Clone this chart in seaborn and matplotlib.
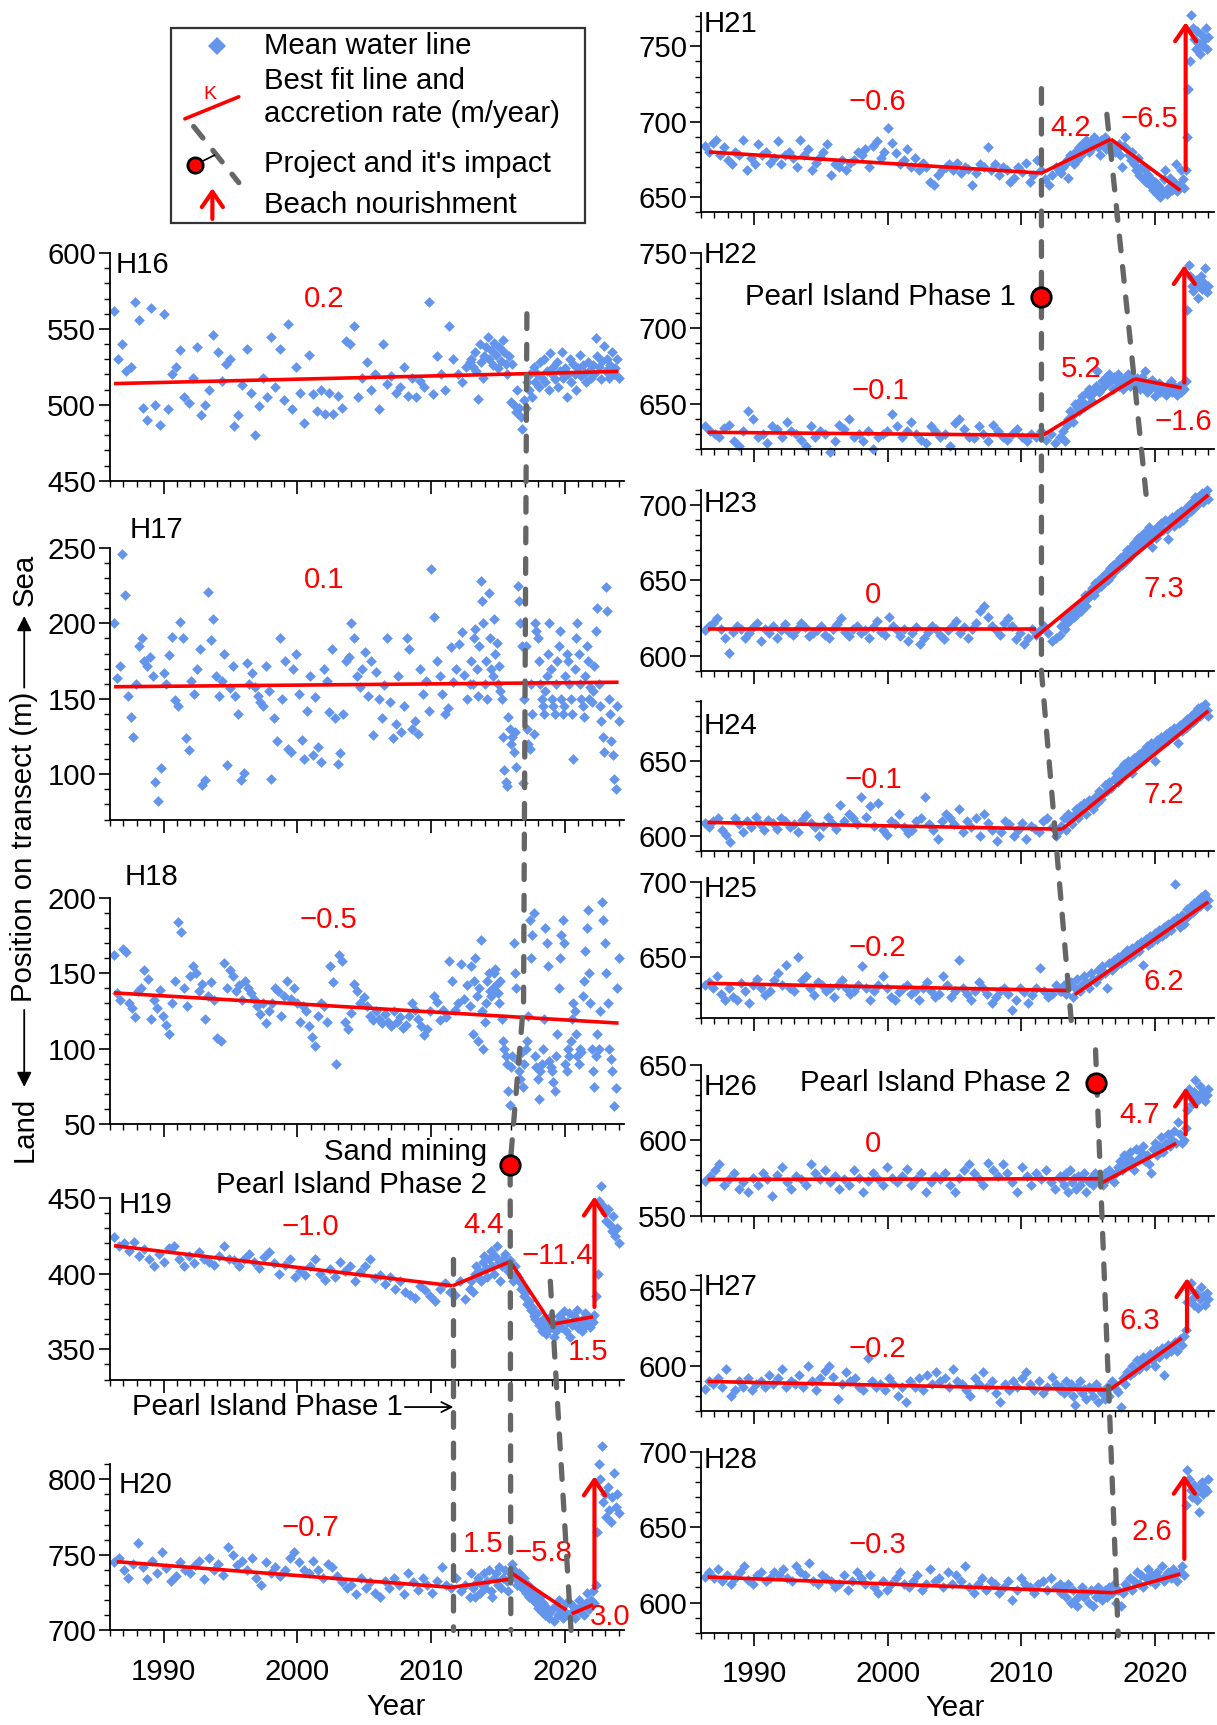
import numpy as np
import matplotlib
matplotlib.use('Agg')
import matplotlib.pyplot as plt
import seaborn as sns
from matplotlib.patches import Rectangle

sns.set_style('ticks', {'axes.edgecolor': 'black', 'xtick.color': 'black',
                        'ytick.color': 'black', 'text.color': 'black'})
plt.rcParams['font.family'] = ['Liberation Sans', 'DejaVu Sans']

BLUE = '#6495ed'
RED = '#ff0000'
GREY = '#666666'
FS = 21.2

# sampling windows of the shoreline images (pre / post / after nourishment)
PERIODS = [(1986.3, 2012.9), (2013.0, 2022.2), (2022.3, 2024.0)]

# ---------------- mean water line positions (m) ----------------
h16_pre = [562, 530, 540, 522, 525, 568, 556, 498, 490, 564, 500, 487, 560, 497, 520, 525, 536, 505, 501, 518,
           538, 493, 500, 510, 546, 535, 516, 527, 530, 486, 493, 513, 537, 508, 480, 499, 518, 505, 545, 512,
           537, 503, 553, 497, 525, 508, 488, 533, 507, 496, 510, 494, 508, 494, 506, 498, 542, 540, 552, 505,
           518, 528, 510, 520, 497, 540, 514, 519, 508, 512, 525, 506, 518, 505, 516, 512, 568, 507, 532, 520,
           510, 552, 530, 520, 515, 525, 528]
h16_post = [530, 525, 535, 522, 504, 540, 528, 518, 532, 538, 545, 530, 536, 526, 541, 533, 524, 538, 529, 543,
            535, 527, 520, 532, 502, 527, 500, 495, 510, 498, 492, 484, 503, 498, 515, 510, 520, 505, 525, 515,
            520, 512, 528, 518, 530, 515, 522, 510, 534, 520, 525, 517, 528, 512, 522, 535, 518, 524, 505, 520,
            530, 515, 527, 520, 510, 524, 533, 519, 526, 521, 515, 528, 523, 518, 526, 520]
h16_last = [544, 532, 525, 517, 529, 539, 522, 530, 518, 526, 535, 520, 524, 530, 518]

h17_pre = [200, 164, 172, 246, 219, 152, 138, 125, 160, 185, 190, 175, 172, 178, 165, 95, 82, 104, 167, 160,
           179, 191, 149, 145, 201, 190, 124, 116, 162, 153, 170, 183, 93, 96, 221, 189, 203, 165, 152, 162,
           180, 106, 157, 172, 152, 140, 96, 101, 174, 160, 167, 158, 152, 148, 145, 172, 155, 97, 137, 122,
           190, 150, 175, 117, 115, 170, 180, 153, 123, 110, 142, 165, 113, 151, 118, 108, 170, 162, 141, 183,
           137, 107, 114, 140, 175, 178, 200, 190, 165, 158, 170, 181, 152, 175, 126, 168, 150, 137, 159, 190,
           148, 124, 133, 165, 128, 145, 190, 183, 130, 135, 127, 170, 153, 162, 142, 236, 204, 175, 165, 153,
           140, 144, 184, 161, 170, 186, 194, 166, 150, 160]
h17_post = [175, 160, 190, 196, 170, 152, 185, 228, 215, 200, 160, 175, 150, 220, 190, 170, 165, 203, 180, 187,
            160, 172, 155, 150, 125, 103, 95, 92, 138, 130, 120, 125, 115, 128, 105, 225, 215, 200, 185, 94,
            150, 185, 130, 120, 117, 160, 140, 127, 200, 195, 190, 175, 160, 150, 145, 140, 155, 165, 180, 200,
            170, 150, 145, 140, 160, 175, 185, 195, 150, 140, 145, 165, 180, 175, 160, 150, 140, 110, 170, 190,
            200, 180, 160, 150, 145, 138, 165, 185, 175, 150, 158, 148, 155, 172]
h17_last = [195, 210, 160, 145, 135, 125, 115, 224, 208, 150, 140, 122, 113, 97, 90, 145, 135]

h18_pre = [162, 137, 132, 166, 164, 130, 127, 121, 138, 140, 152, 146, 120, 132, 127, 139, 122, 116, 110, 130,
           145, 184, 177, 140, 128, 148, 155, 150, 138, 143, 120, 135, 144, 132, 107, 105, 157, 140, 152, 148,
           138, 142, 132, 145, 140, 137, 133, 128, 123, 130, 117, 125, 130, 140, 138, 122, 135, 145, 133, 140,
           130, 118, 128, 125, 115, 108, 102, 122, 130, 128, 118, 155, 144, 90, 162, 158, 118, 113, 124, 143,
           138, 130, 134, 128, 122, 119, 125, 120, 117, 123, 118, 115, 125, 118, 121, 114, 116, 122, 130, 126,
           120, 115, 109, 113, 125, 135, 131, 119, 126, 121, 158, 145, 126, 130, 156, 133, 142, 128]
h18_post = [155, 110, 145, 160, 135, 105, 140, 172, 125, 100, 118, 130, 145, 150, 138, 135, 140, 150, 153, 143,
            137, 130, 145, 120, 105, 100, 95, 90, 72, 63, 88, 95, 170, 150, 140, 92, 85, 80, 98, 75,
            90, 100, 105, 122, 185, 160, 175, 190, 95, 88, 80, 67, 85, 90, 100, 120, 180, 170, 155, 92,
            88, 85, 78, 72, 95, 110, 140, 160, 175, 185, 170, 90, 85, 100, 95, 105, 120, 130, 125, 110,
            95, 90, 100, 98, 135, 145, 165, 180, 192, 150, 130, 100, 85, 75]
h18_last = [95, 110, 100, 125, 197, 185, 170, 150, 130, 100, 93, 85, 62, 74, 140, 160]

h19_pre = [424, 418, 420, 415, 421, 412, 416, 410, 405, 413, 408, 417, 418, 410, 405, 412, 407, 414, 410, 408,
           406, 412, 418, 410, 409, 405, 410, 413, 408, 404, 411, 414, 407, 400, 406, 410, 398, 402, 399, 405,
           410, 400, 396, 403, 398, 408, 402, 405, 395, 401, 405, 410, 397, 399, 393, 398, 390, 395, 388, 386,
           384, 392, 389, 385, 382, 390, 394, 388, 386, 395, 383, 390]
h19_post = [395, 388, 400, 405, 398, 402, 395, 408, 412, 404, 398, 410, 415, 405, 400, 412, 418, 408, 395, 405,
            410, 413, 406, 402, 409, 400, 395, 405, 400, 398, 395, 390, 392, 385, 388, 380, 382, 376, 378, 372,
            370, 374, 366, 368, 362, 370, 365, 360, 368, 364, 372, 366, 358, 362, 368, 372, 365, 370, 375, 362,
            368, 374, 358, 366, 372, 370, 376, 364, 368, 362, 370, 374, 366, 372, 365, 370, 368, 373]
h19_last = [385, 400, 448, 458, 445, 440, 435, 443, 432, 428, 438, 425, 430, 420]

h20_pre = [745, 748, 740, 735, 744, 758, 742, 734, 746, 738, 752, 741, 733, 736, 745, 740, 738, 743, 746, 734,
           748, 740, 744, 737, 755, 750, 743, 746, 740, 748, 735, 730, 745, 738, 742, 736, 740, 748, 752, 745,
           740, 738, 746, 740, 735, 744, 742, 736, 732, 728, 730, 724, 735, 728, 732, 725, 722, 733, 728, 735,
           730, 724, 738, 732, 727, 735, 730, 725, 733, 742, 730, 728, 735, 726, 730, 722]
h20_post = [738, 728, 722, 732, 735, 725, 730, 738, 728, 733, 740, 726, 722, 735, 738, 730, 742, 728, 735, 740,
            733, 726, 738, 744, 740, 735, 730, 738, 732, 728, 735, 725, 730, 722, 728, 720, 725, 718, 715, 722,
            712, 718, 710, 715, 708, 712, 714, 706, 716, 710, 720, 713, 708, 712, 718, 710, 718, 712, 716, 708,
            714, 720, 712, 716, 710, 718, 725, 714, 720, 726, 718]
h20_last = [730, 765, 810, 800, 822, 785, 790, 775, 795, 780, 772, 788, 804, 782, 790, 778]

h21_pre = [684, 680, 686, 688, 678, 683, 675, 672, 680, 678, 688, 668, 676, 672, 685, 678, 680, 673, 676, 687,
           672, 678, 680, 676, 670, 688, 678, 682, 668, 673, 677, 680, 685, 665, 672, 670, 675, 668, 673, 675,
           680, 678, 682, 670, 684, 687, 676, 680, 696, 686, 679, 672, 675, 682, 670, 676, 668, 673, 670, 660,
           658, 665, 668, 670, 672, 668, 673, 666, 670, 669, 658, 666, 672, 670, 683, 668, 672, 665, 670, 668,
           660, 663, 670, 667, 673, 660, 665, 675, 668, 662, 658, 665, 670, 667]
h21_post = [666, 670, 672, 675, 663, 678, 676, 672, 680, 675, 683, 678, 685, 682, 688, 684, 680, 686, 683, 690,
            686, 683, 678, 688, 685, 690, 682, 686, 684, 680, 684, 680, 682, 685, 678, 670, 684, 690, 682, 678,
            675, 680, 672, 668, 676, 665, 670, 662, 668, 660, 665, 658, 662, 655, 660, 652, 658, 650, 655, 662,
            668, 652, 657, 663, 655, 660, 672, 654, 658, 668, 662, 656]
h21_last = [668, 690, 722, 740, 771, 762, 755, 748, 760, 752, 745, 758, 750, 754, 762, 748, 756]

h22_pre = [635, 632, 630, 628, 634, 636, 625, 622, 632, 645, 640, 628, 630, 624, 635, 633, 628, 638, 632, 630,
           626, 622, 635, 628, 632, 630, 618, 625, 636, 633, 640, 628, 630, 625, 632, 620, 628, 630, 632, 643,
           635, 628, 632, 638, 630, 626, 624, 635, 632, 628, 630, 622, 637, 640, 633, 628, 627, 635, 630, 625,
           636, 632, 628, 626, 630, 633, 628, 625, 630, 628, 632, 626, 630, 624, 628]
h22_post = [628, 632, 625, 636, 640, 645, 642, 638, 650, 648, 645, 652, 655, 648, 650, 658, 660, 655, 652, 658,
            662, 672, 658, 660, 665, 662, 668, 664, 670, 666, 660, 668, 665, 670, 662, 666, 660, 664, 668, 670,
            662, 665, 668, 663, 667, 665, 660, 668, 662, 672, 658, 664, 660, 666, 662, 655, 660, 664, 658, 662,
            660, 656, 662, 660, 665, 658, 662, 660, 656, 662, 658, 664, 660]
h22_last = [665, 712, 742, 735, 728, 725, 730, 732, 720, 728, 735, 726, 730, 740, 724, 728]

h23_pre = [617, 620, 622, 625, 618, 612, 602, 616, 620, 618, 612, 615, 619, 622, 610, 618, 615, 620, 612, 617,
           621, 616, 614, 618, 622, 619, 613, 615, 617, 620, 614, 612, 618, 621, 625, 616, 613, 618, 620, 615,
           617, 612, 619, 623, 616, 614, 626, 620, 617, 613, 618, 610, 615, 619, 608, 612, 616, 620, 618, 614,
           611, 617, 620, 623, 615, 619, 612, 618, 622, 630, 633, 626, 620, 617, 614, 622, 625, 620, 611, 615,
           608, 612, 618, 614, 617, 620, 615, 610, 612, 614]
h23_post = [620, 625, 618, 622, 628, 624, 630, 626, 632, 628, 634, 630, 636, 640, 633, 638, 642, 645, 640, 648,
            644, 650, 646, 652, 648, 655, 650, 658, 653, 660, 656, 662, 658, 665, 660, 667, 663, 670, 665, 672,
            668, 675, 670, 678, 673, 680, 676, 682, 678, 685, 680, 672, 683, 678, 686, 681, 688, 683, 690, 684,
            677, 688, 692, 686, 690, 694, 688, 696, 690, 693]
h23_last = [698, 694, 700, 696, 702, 698, 705, 700, 706, 703, 708, 702, 707, 710, 704]

h24_pre = [609, 606, 610, 612, 604, 601, 596, 612, 608, 603, 610, 606, 613, 608, 604, 611, 609, 605, 612, 610,
           606, 608, 603, 611, 614, 609, 606, 600, 607, 613, 609, 605, 621, 610, 615, 612, 608, 626, 613, 620,
           607, 622, 604, 601, 610, 608, 615, 606, 602, 604, 610, 612, 626, 608, 604, 598, 610, 615, 612, 608,
           618, 603, 610, 606, 612, 600, 615, 609, 604, 597, 603, 610, 608, 600, 604, 609, 598, 607, 605, 603,
           610, 612, 606, 600, 604]
h24_post = [607, 612, 604, 615, 610, 608, 614, 618, 612, 620, 616, 622, 615, 624, 620, 618, 626, 622, 630, 625,
            628, 634, 630, 636, 632, 638, 642, 636, 645, 640, 648, 643, 650, 646, 642, 652, 648, 655, 650, 657,
            652, 660, 655, 662, 658, 650, 664, 660, 666, 662, 668, 664, 670, 666, 672, 668, 662, 674, 670, 676]
h24_last = [672, 678, 674, 680, 676, 682, 678, 685, 680, 686, 682, 688, 684, 680]

h25_pre = [632, 634, 630, 638, 626, 622, 630, 624, 622, 633, 628, 620, 632, 636, 630, 625, 628, 635, 640, 632,
           645, 630, 628, 650, 635, 638, 630, 625, 634, 632, 628, 630, 624, 632, 635, 630, 626, 628, 632, 644,
           630, 622, 628, 632, 638, 630, 624, 622, 627, 630, 632, 626, 628, 622, 630, 634, 628, 624, 626, 638,
           632, 624, 628, 648, 630, 626, 622, 628, 634, 630, 626, 620, 624, 628, 630, 626, 615, 622, 630, 627,
           620, 625, 630, 643, 628, 624, 626, 632, 628]
h25_post = [628, 632, 626, 630, 634, 624, 630, 636, 628, 632, 638, 634, 630, 640, 636, 634, 642, 638, 644, 640,
            630, 646, 642, 648, 644, 650, 646, 652, 648, 655, 650, 656, 652, 658, 654, 660, 645, 662, 658, 664,
            660, 666, 662, 668, 664, 670, 666, 672, 668, 674, 699, 676, 670, 678, 672]
h25_last = [676, 682, 678, 684, 680, 686, 682, 688, 684, 690, 686, 692, 684, 688]

h26_pre = [573, 576, 580, 584, 570, 574, 578, 568, 572, 566, 575, 570, 578, 574, 563, 577, 582, 572, 568, 576,
           574, 570, 584, 578, 574, 580, 572, 576, 568, 574, 570, 580, 575, 566, 573, 578, 574, 570, 582, 575,
           572, 576, 581, 570, 574, 578, 566, 572, 576, 574, 578, 570, 566, 575, 580, 584, 578, 574, 570, 585,
           580, 576, 584, 578, 572, 566, 582, 576, 570, 578, 574, 580, 572, 568, 576]
h26_post = [574, 570, 578, 566, 580, 572, 575, 568, 576, 570, 574, 578, 566, 572, 575, 570, 578, 574, 572, 576,
            570, 578, 574, 580, 576, 572, 578, 582, 586, 580, 590, 584, 588, 592, 586, 580, 594, 588, 592, 596,
            586, 590, 584, 578, 594, 598, 590, 596, 602, 592, 598, 604, 596, 600, 606, 598, 612, 604, 598, 600]
h26_last = [608, 620, 634, 628, 624, 632, 640, 626, 630, 636, 628, 632, 626, 630, 634]

h27_pre = [585, 590, 588, 592, 586, 598, 580, 584, 590, 586, 592, 584, 588, 590, 586, 594, 588, 592, 598, 586,
           590, 588, 594, 586, 600, 590, 584, 592, 597, 600, 593, 578, 588, 596, 590, 592, 586, 584, 605, 590,
           586, 588, 584, 592, 588, 580, 586, 576, 590, 586, 592, 584, 594, 588, 596, 590, 592, 586, 598, 590,
           588, 584, 580, 592, 588, 596, 586, 590, 582, 576, 588, 584, 590, 586, 592, 596, 588, 584, 590, 582,
           586, 593, 588, 584]
h27_post = [586, 582, 590, 584, 588, 580, 574, 586, 590, 582, 585, 578, 586, 584, 580, 588, 576, 584, 582, 578,
            586, 580, 590, 588, 585, 583, 573, 592, 588, 596, 594, 600, 596, 604, 598, 602, 606, 600, 604, 608,
            604, 600, 610, 606, 612, 594, 608, 614, 610, 612, 616, 610, 618, 614, 620]
h27_last = [624, 642, 650, 655, 645, 640, 648, 638, 644, 652, 646, 640, 648, 644]

h28_pre = [617, 620, 616, 622, 614, 618, 612, 616, 620, 624, 615, 612, 618, 620, 614, 616, 620, 618, 622, 616,
           614, 624, 620, 618, 626, 614, 612, 618, 616, 614, 610, 612, 618, 608, 614, 620, 616, 612, 618, 610,
           606, 614, 608, 612, 616, 620, 612, 610, 614, 618, 608, 612, 622, 614, 616, 610, 620, 612, 618, 614,
           624, 610, 606, 612, 616, 608, 614, 612, 606, 610, 614, 602, 608, 616, 612, 610, 606, 612, 614, 608,
           616, 610, 612]
h28_post = [606, 610, 604, 612, 600, 608, 602, 598, 605, 610, 604, 606, 600, 608, 598, 604, 610, 606, 602, 608,
            604, 610, 606, 612, 600, 608, 598, 606, 612, 610, 616, 608, 614, 620, 612, 618, 610, 616, 622, 614,
            618, 612, 620, 616, 624, 614, 618, 620, 616, 622, 618, 614, 620, 624, 618]
h28_last = [665, 688, 682, 675, 670, 678, 672, 668, 660, 676, 680, 672, 676, 674, 682]

# ---------------- best fit segments (x0, y0, x1, y1) ----------------
h16_fit = [(1986.3, 514, 2024.0, 522)]
h17_fit = [(1986.3, 158, 2024.0, 161)]
h18_fit = [(1986.3, 137, 2024.0, 117)]
h19_fit = [(1986.3, 418.5, 2011.6, 392), (2011.6, 392, 2015.9, 408),
           (2015.9, 408, 2019.0, 366.5), (2019.0, 366.5, 2022.1, 371.5)]
h20_fit = [(1986.5, 745.5, 2011.5, 728.5), (2011.5, 728.5, 2015.95, 734),
           (2016.0, 738, 2020.1, 713.5), (2020.5, 711, 2022.1, 717)]
h21_fit = [(1986.6, 680, 2011.5, 666), (2011.5, 666, 2016.7, 688.5), (2016.7, 688.5, 2021.9, 654.5)]
h22_fit = [(1986.5, 631, 2011.6, 629), (2011.6, 629, 2018.5, 666.5), (2018.5, 666.5, 2022.0, 660.5)]
h23_fit = [(1986.5, 617.5, 2011.1, 617.5), (2011.0, 612, 2024.0, 706.5)]
h24_fit = [(1986.5, 609.3, 2013.05, 604.8), (2013.05, 604.8, 2024.0, 683.3)]
h25_fit = [(1986.5, 632.8, 2013.5, 628), (2014.0, 625.3, 2024.0, 687)]
h26_fit = [(1986.5, 574, 2015.9, 574.5), (2016.0, 571.7, 2021.6, 598)]
h27_fit = [(1986.5, 589.8, 2016.6, 584.2), (2016.6, 584.2, 2022.0, 618.4)]
h28_fit = [(1986.5, 617, 2016.9, 606.5), (2016.9, 606.5, 2021.9, 619)]

# ---------------- accretion rates (m/year) and where they are written ----------------
h16_rate = [('0.2', 2002.0, 570)]
h17_rate = [('0.1', 2002.0, 229)]
h18_rate = [('\u22120.5', 2002.3, 185)]
h19_rate = [('\u22121.0', 2001.0, 431), ('4.4', 2013.9, 432.5), ('\u221211.4', 2019.4, 412), ('1.5', 2021.7, 348)]
h20_rate = [('\u22120.7', 2001.0, 767.5), ('1.5', 2013.9, 757.5), ('\u22125.8', 2018.4, 751.5), ('3.0', 2023.4, 709)]
h21_rate = [('\u22120.6', 1999.2, 713), ('4.2', 2013.7, 696), ('\u22126.5', 2019.6, 702)]
h22_rate = [('\u22120.1', 1999.4, 658.5), ('5.2', 2014.5, 673), ('\u22121.6', 2022.1, 638)]
h23_rate = [('0', 1998.9, 640), ('7.3', 2020.65, 644.5)]
h24_rate = [('\u22120.1', 1998.9, 637.5), ('7.2', 2020.65, 627.5)]
h25_rate = [('\u22120.2', 1999.2, 656.5), ('6.2', 2020.65, 633.7)]
h26_rate = [('0', 1998.9, 597.6), ('4.7', 2018.85, 617)]
h27_rate = [('\u22120.2', 1999.2, 611), ('6.3', 2018.85, 630)]
h28_rate = [('\u22120.3', 1999.2, 638), ('2.6', 2019.8, 646.7)]

# ---------------- beach nourishment arrows (year, from, to) ----------------
h19_nour = [(2022.2, 378, 451)]
h20_nour = [(2022.2, 728, 802)]
h21_nour = [(2022.3, 668, 766)]
h22_nour = [(2022.2, 664, 742)]
h26_nour = [(2022.3, 604, 635)]
h27_nour = [(2022.4, 623, 658)]
h28_nour = [(2022.2, 629, 685)]

# ---------------- layout: column, top/bottom (px of 1106x1568 frame), ylim, name pos ----------------
LAYOUT = {
    'H16': (0, 230, 437, (450, 600), (0.011, 0.947)),
    'H17': (0, 498, 745, (70, 250), (0.039, 1.065)),
    'H18': (0, 816, 1022, (50, 200), (0.028, 1.092)),
    'H19': (0, 1089, 1254, (330, 450), (0.017, 0.964)),
    'H20': (0, 1331, 1482, (700, 810), (0.017, 0.874)),
    'H21': (1, 12, 193, (640, 772), (0.006, 0.945)),
    'H22': (1, 230, 408, (620, 750), (0.006, 0.99)),
    'H23': (1, 445, 610, (590, 710), (0.006, 0.92)),
    'H24': (1, 637, 774, (590, 690), (0.006, 0.83)),
    'H25': (1, 802, 925, (610, 700), (0.006, 0.95)),
    'H26': (1, 968, 1105, (550, 650), (0.006, 0.854)),
    'H27': (1, 1159, 1283, (570, 660), (0.006, 0.91)),
    'H28': (1, 1320, 1484, (580, 700), (0.006, 0.957)),
}

SERIES = {
    'H16': (h16_pre, h16_post, h16_last, h16_fit, h16_rate, []),
    'H17': (h17_pre, h17_post, h17_last, h17_fit, h17_rate, []),
    'H18': (h18_pre, h18_post, h18_last, h18_fit, h18_rate, []),
    'H19': (h19_pre, h19_post, h19_last, h19_fit, h19_rate, h19_nour),
    'H20': (h20_pre, h20_post, h20_last, h20_fit, h20_rate, h20_nour),
    'H21': (h21_pre, h21_post, h21_last, h21_fit, h21_rate, h21_nour),
    'H22': (h22_pre, h22_post, h22_last, h22_fit, h22_rate, h22_nour),
    'H23': (h23_pre, h23_post, h23_last, h23_fit, h23_rate, []),
    'H24': (h24_pre, h24_post, h24_last, h24_fit, h24_rate, []),
    'H25': (h25_pre, h25_post, h25_last, h25_fit, h25_rate, []),
    'H26': (h26_pre, h26_post, h26_last, h26_fit, h26_rate, h26_nour),
    'H27': (h27_pre, h27_post, h27_last, h27_fit, h27_rate, h27_nour),
    'H28': (h28_pre, h28_post, h28_last, h28_fit, h28_rate, h28_nour),
}

# project impact lines: (panel, year, position) nodes
line_a = [('H21', 2011.5, 722), ('H23', 2011.5, 590), ('H25', 2013.75, 606)]
line_b = [('H21', 2016.4, 705), ('H23', 2019.45, 697)]
line_c = [('H26', 2015.55, 660), ('H28', 2017.25, 578)]
line_d = [('H16', 2017.15, 560), ('H18', 2016.9, 130), ('H19', 2015.9, 472), ('H20', 2015.95, 700)]
line_e = [('H19', 2011.6, 410), ('H20', 2011.6, 700)]
line_f = [('H19', 2018.9, 395), ('H20', 2020.45, 700)]
projects = [('H22', 2011.5, 721), ('H26', 2015.6, 638), ('H19', 2015.9, 472)]

W, H = 1106, 1568
fig = plt.figure(figsize=(12.17, 17.25), dpi=100)

axes = {}
for name, (col, top, bot, ylim, lab) in LAYOUT.items():
    x0, w = (100, 467) if col == 0 else (637, 466)
    ax = fig.add_axes([x0 / W, 1 - bot / H, w / W, (bot - top) / H])
    axes[name] = ax
    pre, post, last, fit, rates, nour = SERIES[name]
    t = np.concatenate([np.linspace(a, b, len(v)) for (a, b), v in zip(PERIODS, (pre, post, last))])
    y = np.concatenate([pre, post, last])
    sns.scatterplot(x=t, y=y, ax=ax, marker='D', s=30, color=BLUE, linewidth=0,
                    clip_on=False, zorder=2)
    for x0_, y0_, x1_, y1_ in fit:
        ax.plot([x0_, x1_], [y0_, y1_], color=RED, lw=2.6, zorder=3, solid_capstyle='butt')
    for txt, tx, ty in rates:
        ax.text(tx, ty, txt, color=RED, fontsize=FS, ha='center', va='center', zorder=4, clip_on=False)
    for ax_, y0_, y1_ in nour:
        ax.annotate('', xy=(ax_, y1_), xytext=(ax_, y0_), annotation_clip=False,
                    arrowprops=dict(arrowstyle='->,head_length=0.55,head_width=0.38', color=RED,
                                    lw=3, mutation_scale=20, shrinkA=0, shrinkB=0), zorder=4)
    ax.text(lab[0], lab[1], name, transform=ax.transAxes, fontsize=FS, ha='left', va='center')
    ax.set_xlim(1986, 2024.4)
    ax.set_ylim(*ylim)
    ax.set_xticks([1990, 2000, 2010, 2020])
    ax.set_xticks(np.arange(1986, 2025), minor=True)
    lo, hi = ylim
    ax.set_yticks(np.arange(np.ceil(lo / 50) * 50, hi + 1, 50))
    ax.set_yticks(np.arange(np.ceil(lo / 10) * 10, hi + 1, 10), minor=True)
    ax.tick_params(axis='y', which='major', length=8, width=1.2, labelsize=FS, pad=2)
    ax.tick_params(axis='y', which='minor', length=4.5, width=1.0)
    ax.tick_params(axis='x', which='major', length=9, width=1.2, labelsize=FS, pad=11)
    ax.tick_params(axis='x', which='minor', length=4.5, width=1.0)
    if name not in ('H20', 'H28'):
        ax.tick_params(axis='x', labelbottom=False)
    ax.set_xlabel('')
    ax.set_ylabel('')
    sns.despine(ax=ax)
    for s in ('left', 'bottom'):
        ax.spines[s].set_linewidth(1.3)
    ax.patch.set_alpha(0)

# overlay in frame pixels for the annotations that cross panels
over = fig.add_axes([0, 0, 1, 1], zorder=10)
over.set_xlim(0, W)
over.set_ylim(H, 0)
over.axis('off')
over.patch.set_alpha(0)


def to_over(name, x, y):
    p = axes[name].transData.transform((x, y))
    return over.transData.inverted().transform(p)


DASH = dict(color=GREY, lw=3.8, ls=(0, (2.8, 3.0)), dash_capstyle='round')
for nodes in (line_a, line_b, line_c, line_d, line_e, line_f):
    pts = np.array([to_over(*n) for n in nodes])
    over.plot(pts[:, 0], pts[:, 1], **DASH)

circ = [to_over(*p) for p in projects]
for cx, cy in circ:
    over.plot(cx, cy, 'o', ms=14, mfc=RED, mec='black', mew=2)
(c1x, c1y), (c2x, c2y), (c3x, c3y) = circ
over.text(c1x - 23, c1y, 'Pearl Island Phase 1', fontsize=FS, ha='right', va='center')
over.text(c2x - 23, c2y, 'Pearl Island Phase 2', fontsize=FS, ha='right', va='center')
over.text(c3x - 21, c3y - 12, 'Sand mining', fontsize=FS, ha='right', va='center')
over.text(c3x - 21, c3y + 18, 'Pearl Island Phase 2', fontsize=FS, ha='right', va='center')

over.text(120, 1279, 'Pearl Island Phase 1', fontsize=FS, ha='left', va='center')
over.annotate('', xy=(412, 1279), xytext=(368, 1279),
              arrowprops=dict(arrowstyle='->', color='black', lw=1.3, mutation_scale=18,
                              shrinkA=0, shrinkB=0))

# y axis label with land / sea arrows
over.text(22, 1027, 'Land', fontsize=FS, rotation=90, ha='center', va='center')
over.text(22, 770, 'Position on transect (m)', fontsize=FS, rotation=90, ha='center', va='center')
over.text(22, 527, 'Sea', fontsize=FS, rotation=90, ha='center', va='center')
over.annotate('', xy=(22, 988), xytext=(22, 918),
              arrowprops=dict(arrowstyle='-|>', color='black', lw=1.3, mutation_scale=22,
                              shrinkA=0, shrinkB=0))
over.annotate('', xy=(22, 560), xytext=(22, 625),
              arrowprops=dict(arrowstyle='-|>', color='black', lw=1.3, mutation_scale=22,
                              shrinkA=0, shrinkB=0))

over.text(360, 1552, 'Year', fontsize=FS, ha='center', va='center')
over.text(868, 1553, 'Year', fontsize=FS, ha='center', va='center')

# legend box
over.add_patch(Rectangle((155, 25), 377, 178, fill=False, ec='#333333', lw=1.6))
over.plot(197, 42, marker='D', ms=9, color=BLUE, mew=0)
over.text(240, 42, 'Mean water line', fontsize=FS, va='center')
over.plot([168, 217], [108, 88], color=RED, lw=2.6)
over.text(191, 86, 'K', fontsize=14, color=RED, ha='center', va='center')
over.text(240, 74, 'Best fit line and', fontsize=FS, va='center')
over.text(240, 104, 'accretion rate (m/year)', fontsize=FS, va='center')
over.plot([176, 217], [115, 166], **DASH)
over.plot([177, 195], [150, 141], color='black', lw=1.2)
over.plot(177, 150, 'o', ms=11, mfc=RED, mec='black', mew=2)
over.text(240, 149, "Project and it's impact", fontsize=FS, va='center')
over.annotate('', xy=(193, 171), xytext=(193, 199),
              arrowprops=dict(arrowstyle='->,head_length=0.55,head_width=0.38', color=RED, lw=3,
                              mutation_scale=20, shrinkA=0, shrinkB=0))
over.text(240, 186, 'Beach nourishment', fontsize=FS, va='center')

fig.savefig('out.png', dpi=100)
